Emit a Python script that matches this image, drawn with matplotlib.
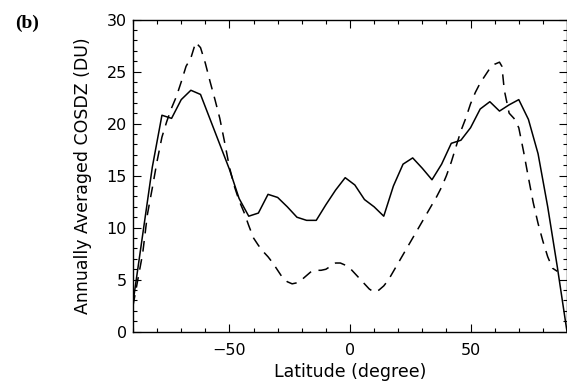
import numpy as np
import matplotlib
matplotlib.use("Agg")
import matplotlib.pyplot as plt
from matplotlib.ticker import MultipleLocator

# =====================================
# DATA
# =====================================

solid_lat = [-90, -82, -78, -74, -70, -66, -62, -58, -54, -50, -46, -42, -38, -34,
             -30, -26, -22, -18, -14, -10, -6, -2, 2, 6, 10, 14, 18, 22, 26, 30,
             34, 38, 42, 46, 50, 54, 58, 62, 66, 70, 74, 78, 82, 86, 90]
solid_val = [2.8, 15.8, 20.8, 20.5, 22.3, 23.2, 22.8, 20.4, 18.0, 15.6, 12.8, 11.1,
             11.4, 13.2, 12.9, 12.0, 11.0, 10.7, 10.7, 12.2, 13.6, 14.8, 14.1, 12.7,
             12.0, 11.1, 14.0, 16.1, 16.7, 15.7, 14.6, 16.1, 18.1, 18.4, 19.6, 21.4,
             22.1, 21.2, 21.8, 22.3, 20.4, 17.1, 12.0, 6.2, 0.0]

dashed_lat = [-90, -86, -84, -82, -80, -78, -76, -74, -72, -70, -68, -66, -64, -62,
              -60, -58, -56, -54, -52, -50, -48, -46, -44, -42, -40, -38, -36, -34,
              -32, -30, -28, -26, -24, -22, -20, -18, -16, -14, -12, -10, -8, -6,
              -4, -2, 0, 2, 4, 6, 8, 10, 12, 14, 16, 18, 20, 22, 24, 26, 28, 30,
              32, 34, 36, 38, 40, 42, 44, 46, 48, 50, 52, 54, 56, 58, 60, 62, 63,
              64, 66, 68, 70, 72, 74, 76, 78, 80, 82, 84, 86]
dashed_val = [2.5, 7.5, 11.3, 13.8, 16.4, 18.7, 20.2, 21.5, 22.6, 24.0, 25.5, 26.3,
              27.8, 27.3, 25.8, 24.0, 22.3, 20.5, 18.2, 15.8, 14.0, 12.6, 11.5, 10.2,
              9.0, 8.3, 7.7, 7.2, 6.6, 5.9, 5.2, 4.8, 4.6, 4.7, 5.0, 5.4, 5.8, 5.9,
              5.9, 6.0, 6.3, 6.6, 6.6, 6.4, 6.1, 5.6, 5.1, 4.6, 4.1, 3.8, 4.0, 4.4,
              5.0, 5.8, 6.6, 7.4, 8.2, 9.0, 9.8, 10.6, 11.4, 12.2, 13.0, 13.9, 15.0,
              16.3, 17.8, 19.3, 20.5, 21.9, 23.0, 23.9, 24.6, 25.3, 25.7, 25.9, 25.5,
              23.2, 21.0, 20.5, 19.6, 17.3, 14.8, 12.4, 10.4, 8.7, 7.2, 6.1, 5.8]

x_ticks = [-50, 0, 50]
y_ticks = [0, 5, 10, 15, 20, 25, 30]

# =====================================
# PLOT
# =====================================

plt.rcParams["font.family"] = "DejaVu Sans"

fig = plt.figure(figsize=(5.67, 3.85), dpi=100)
ax = fig.add_axes([133 / 567, 53.3 / 385, 434 / 567, 312.2 / 385])

ax.plot(solid_lat, solid_val, color="black", linewidth=1.1)
ax.plot(dashed_lat, dashed_val, color="black", linewidth=1.1,
        linestyle=(0, (7, 5)))

ax.set_xlim(-90, 90)
ax.set_ylim(0, 30)
ax.set_xticks(x_ticks)
ax.set_yticks(y_ticks)
ax.xaxis.set_minor_locator(MultipleLocator(10))
ax.yaxis.set_minor_locator(MultipleLocator(1))

ax.tick_params(which="both", direction="in", top=True, right=True,
               width=0.8, labelsize=11.5)
ax.tick_params(which="major", length=6)
ax.tick_params(which="minor", length=3)
ax.tick_params(axis="y", pad=4.5)
ax.tick_params(axis="x", pad=8)

for s in ax.spines.values():
    s.set_linewidth(1.0)

ax.set_xlabel("Latitude (degree)", fontsize=12.5, labelpad=4)
ax.set_ylabel("Annually Averaged COSDZ (DU)", fontsize=12.5, labelpad=10)

fig.text(15 / 567, 1 - 23 / 385, "(b)", fontsize=14, fontweight="bold",
         family="Liberation Serif", va="center", ha="left")

plt.savefig("out.png", dpi=100)
plt.close()
